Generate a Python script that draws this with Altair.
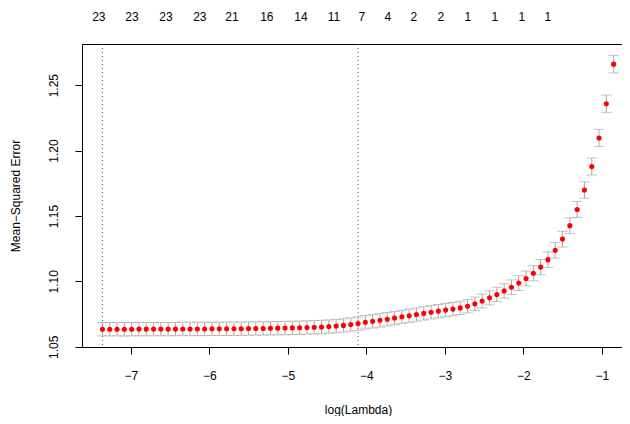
import altair as alt
import pandas as pd

# log(lambda) of each fitted point (left to right)
log_lambda = [
    -7.362, -7.269, -7.176, -7.083, -6.990, -6.897, -6.804, -6.711, -6.618, -6.525,
    -6.432, -6.339, -6.246, -6.153, -6.060, -5.967, -5.874, -5.780, -5.687, -5.594,
    -5.501, -5.408, -5.315, -5.222, -5.129, -5.036, -4.943, -4.850, -4.757, -4.664,
    -4.571, -4.478, -4.385, -4.292, -4.199, -4.106, -4.013, -3.920, -3.827, -3.734,
    -3.641, -3.548, -3.455, -3.362, -3.269, -3.176, -3.083, -2.990, -2.897, -2.804,
    -2.711, -2.618, -2.525, -2.431, -2.338, -2.245, -2.152, -2.059, -1.966, -1.873,
    -1.780, -1.687, -1.594, -1.501, -1.408, -1.315, -1.222, -1.129, -1.036, -0.943,
    -0.850,
]
# cross-validated mean squared error
mse = [
    1.0634, 1.0634, 1.0634, 1.0634, 1.0634, 1.0635, 1.0635, 1.0635, 1.0635, 1.0635,
    1.0635, 1.0636, 1.0636, 1.0636, 1.0636, 1.0637, 1.0637, 1.0637, 1.0638, 1.0638,
    1.0639, 1.0640, 1.0640, 1.0641, 1.0642, 1.0643, 1.0644, 1.0645, 1.0647, 1.0649,
    1.0651, 1.0654, 1.0658, 1.0663, 1.0670, 1.0677, 1.0687, 1.0694, 1.0702, 1.0710,
    1.0719, 1.0729, 1.0737, 1.0746, 1.0755, 1.0764, 1.0772, 1.0780, 1.0788, 1.0797,
    1.0810, 1.0828, 1.0850, 1.0874, 1.0900, 1.0927, 1.0955, 1.0987, 1.1022, 1.1062,
    1.1109, 1.1166, 1.1237, 1.1323, 1.1426, 1.1550, 1.1698, 1.1878, 1.2096, 1.2358,
    1.2661,
]
# standard error of the CV estimate
se = [
    0.0051, 0.0051, 0.0051, 0.0051, 0.0051, 0.0051, 0.0051, 0.0051, 0.0051, 0.0051,
    0.0051, 0.0051, 0.0051, 0.0051, 0.0051, 0.0051, 0.0051, 0.0051, 0.0051, 0.0051,
    0.0051, 0.0051, 0.0051, 0.0051, 0.0051, 0.0051, 0.0051, 0.0051, 0.0051, 0.0051,
    0.0051, 0.0051, 0.0051, 0.0051, 0.0051, 0.0051, 0.0051, 0.0051, 0.0051, 0.0051,
    0.0051, 0.0051, 0.0051, 0.0051, 0.0051, 0.0051, 0.0051, 0.0051, 0.0051, 0.0051,
    0.0051, 0.0052, 0.0053, 0.0054, 0.0055, 0.0055, 0.0056, 0.0057, 0.0057, 0.0058,
    0.0058, 0.0059, 0.0059, 0.0060, 0.0060, 0.0061, 0.0063, 0.0065, 0.0066, 0.0066,
    0.0067,
]
# number of non-zero coefficients shown on the top axis
top_pos = [-7.408, -6.987, -6.554, -6.121, -5.713, -5.268, -4.834, -4.414,
           -4.057, -3.726, -3.395, -3.051, -2.707, -2.363, -2.019, -1.688]
top_nz = ["23", "23", "23", "23", "21", "16", "14", "11",
          "7", "4", "2", "2", "1", "1", "1", "1"]
# lambda.min and lambda.1se
vlines = [-7.362, -4.106]

x_ticks = [-7, -6, -5, -4, -3, -2, -1]
y_ticks = [1.05, 1.10, 1.15, 1.20, 1.25]

df = pd.DataFrame({"x": log_lambda, "mse": mse, "se": se})
df["lo"] = df["mse"] - df["se"]
df["hi"] = df["mse"] + df["se"]

FONT = "Liberation Sans"
W, H = 540, 303
xscale = alt.Scale(domain=[-7.6225, -0.7435], nice=False, zero=False)
yscale = alt.Scale(domain=[1.0498, 1.2815], nice=False, zero=False)

bottom_axis = alt.Axis(
    values=x_ticks, format="d", title="log(Lambda)", tickSize=7,
    labelPadding=25, labelBaseline="alphabetic",
    titleX=276, titleY=66.5, titleBaseline="alphabetic", titleAlign="center",
)
left_axis = alt.Axis(
    values=y_ticks, format=".2f", title="Mean\u2212Squared Error", tickSize=7,
    labelAngle=270, labelAlign="center", labelBaseline="alphabetic", labelPadding=18,
    titleAngle=270, titleX=-63, titleY=H / 2, titleAlign="center",
    titleBaseline="alphabetic",
)

vrules = alt.Chart(pd.DataFrame({"v": vlines})).mark_rule(
    color="#555555", strokeDash=[1, 3], strokeWidth=1
).encode(x=alt.X("v:Q", scale=xscale, axis=None))

bars = alt.Chart(df).mark_rule(color="#A9A9A9", strokeWidth=1).encode(
    x=alt.X("x:Q", scale=xscale, axis=bottom_axis),
    y=alt.Y("lo:Q", scale=yscale, axis=left_axis),
    y2="hi:Q",
)
caps_hi = alt.Chart(df).mark_tick(
    orient="horizontal", size=10.6, thickness=1, color="#A9A9A9"
).encode(
    x=alt.X("x:Q", scale=xscale, axis=None),
    y=alt.Y("hi:Q", scale=yscale, axis=None),
)
caps_lo = alt.Chart(df).mark_tick(
    orient="horizontal", size=10.6, thickness=1, color="#A9A9A9"
).encode(
    x=alt.X("x:Q", scale=xscale, axis=None),
    y=alt.Y("lo:Q", scale=yscale, axis=None),
)
points = alt.Chart(df).mark_circle(color="red", size=26, opacity=1).encode(
    x=alt.X("x:Q", scale=xscale, axis=None),
    y=alt.Y("mse:Q", scale=yscale, axis=None),
)
top_text = alt.Chart(pd.DataFrame({"pos": top_pos, "nz": top_nz})).mark_text(
    baseline="alphabetic", align="center", fontSize=12, font=FONT, color="black"
).encode(
    x=alt.X("pos:Q", scale=xscale,
            axis=alt.Axis(orient="top", labels=False, ticks=False, domain=True, title=None)),
    y=alt.value(-23),
    text="nz:N",
)

chart = alt.layer(vrules, bars, caps_hi, caps_lo, points, top_text).resolve_axis(
    x="independent", y="independent"
).properties(
    width=W, height=H,
    autosize=alt.AutoSizeParams(type="none"),
    padding={"left": 74, "top": 36, "right": 0, "bottom": 69},
).configure(font=FONT).configure_view(stroke="transparent").configure_axis(
    grid=False, labelFont=FONT, titleFont=FONT, labelFontSize=12, titleFontSize=12,
    titleFontWeight="normal", labelColor="black", titleColor="black",
    tickColor="black", domainColor="black", domainWidth=1, tickWidth=1,
)

chart.save("out.html", embed_options={"renderer": "svg", "actions": False})
